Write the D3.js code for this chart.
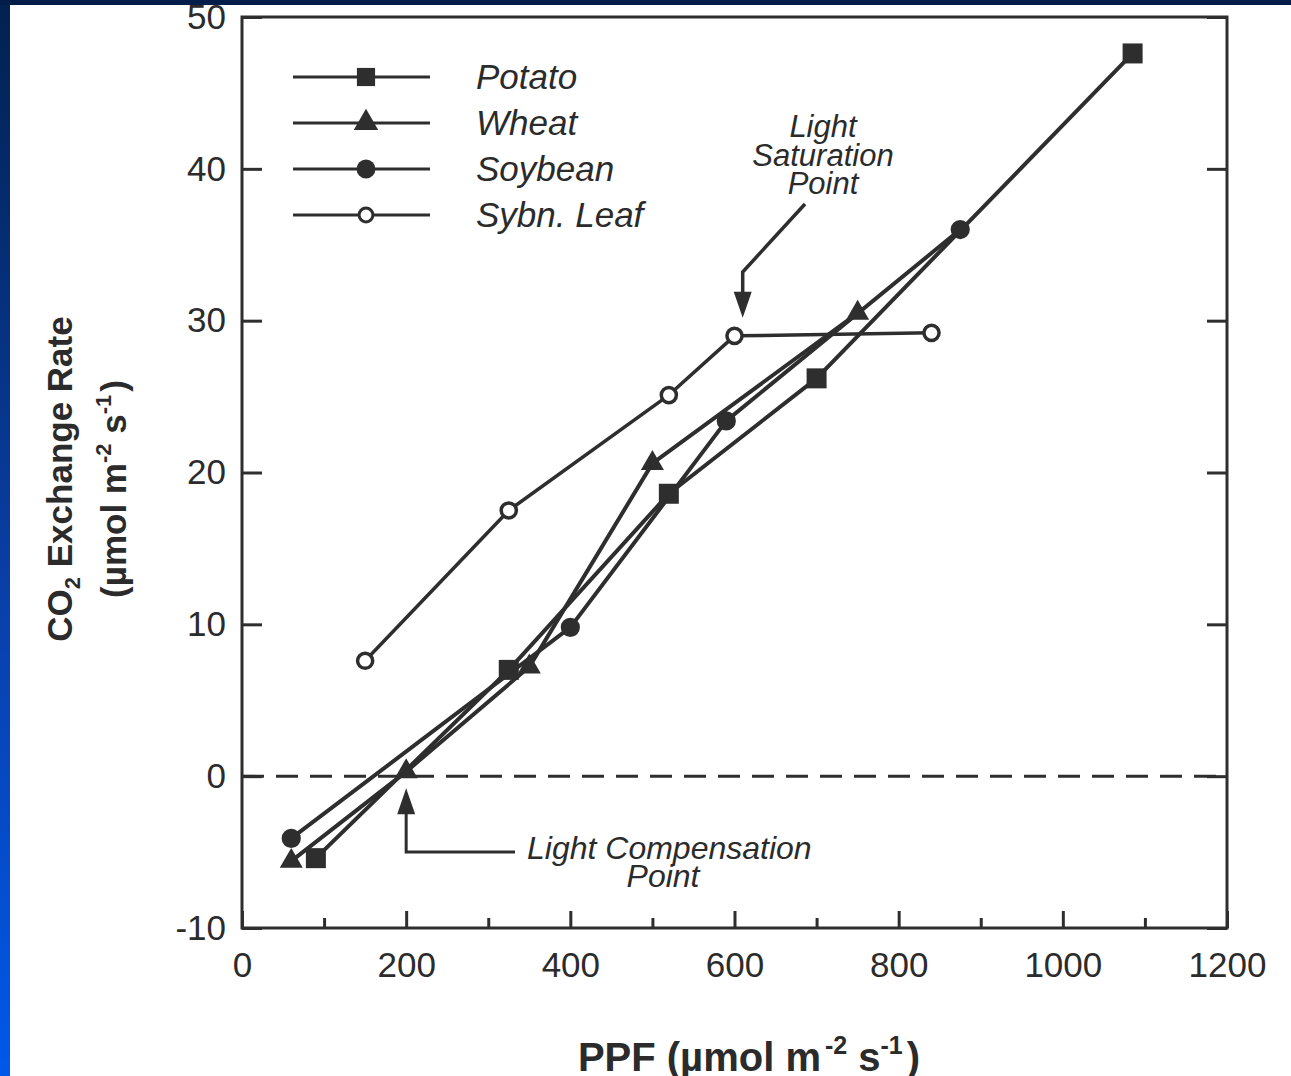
<!DOCTYPE html>
<html>
<head>
<meta charset="utf-8">
<script src="https://cdn.jsdelivr.net/npm/d3@7"></script>
<style>
  html, body { margin: 0; padding: 0; background: #fff; }
  svg { display: block; }
  text { font-family: "Liberation Sans", Arial, Helvetica, sans-serif; fill: #2b2b2b; }
</style>
</head>
<body>
<svg id="chart" width="1291" height="1076"></svg>
<script>
/* CO2 exchange rate vs. PPF — light response curves for four canopies. */

// ---- data ----
var potatoPPF  = [90, 325, 520, 700, 1085];
var potatoCER  = [-5.4, 7.0, 18.6, 26.2, 47.6];
var wheatPPF   = [60, 200, 350, 500, 750];
var wheatCER   = [-5.6, 0.3, 7.2, 20.6, 30.5];
var soyPPF     = [60, 400, 590, 875];
var soyCER     = [-4.1, 9.8, 23.4, 36.0];
var leafPPF    = [150, 325, 520, 600, 840];
var leafCER    = [7.6, 17.5, 25.1, 29.0, 29.2];

var seriesNames = ['Potato', 'Wheat', 'Soybean', 'Sybn. Leaf'];
var xTicks      = [0, 200, 400, 600, 800, 1000, 1200];
var xMinorTicks = [100, 300, 500, 700, 900, 1100];
var yTicks      = [-10, 0, 10, 20, 30, 40, 50];

var compensationPPF = 200;   // arrow "Light Compensation Point"
var saturationPPF   = 610;   // arrow "Light Saturation Point"
var saturationCER   = 29;

(function () {
  'use strict';

  var INK = '#2e2e2e';
  var svg = d3.select('#chart');

  // ---- slide frame: navy top band, blue gradient strip on the left ----
  var defs = svg.append('defs');
  var grad = defs.append('linearGradient').attr('id', 'sideBlue')
    .attr('x1', 0).attr('y1', 0).attr('x2', 0).attr('y2', 1);
  grad.append('stop').attr('offset', '0%').attr('stop-color', '#02214f');
  grad.append('stop').attr('offset', '55%').attr('stop-color', '#0a3fa8');
  grad.append('stop').attr('offset', '100%').attr('stop-color', '#0058ea');
  svg.append('rect').attr('x', 0).attr('y', 0).attr('width', 10).attr('height', 1076)
    .attr('fill', 'url(#sideBlue)');
  svg.append('rect').attr('x', 0).attr('y', 0).attr('width', 1291).attr('height', 5)
    .attr('fill', '#021d4a');

  // ---- scales ----
  var x = d3.scaleLinear().domain([0, 1200]).range([242, 1227]);
  var y = d3.scaleLinear().domain([-10, 50]).range([928, 17]);
  var plain = function (d) { return String(d); };   // "-10", "1000" as printed

  var plot = svg.append('g');

  // zero line (dashed)
  plot.append('line')
    .attr('x1', x(0)).attr('x2', x(1200)).attr('y1', y(0)).attr('y2', y(0))
    .attr('stroke', INK).attr('stroke-width', 3).attr('stroke-dasharray', '22 12');

  // ---- axes: ticks point inward, box drawn separately ----
  function styleAxis(g, fs) {
    g.select('.domain').remove();
    g.selectAll('.tick line').attr('stroke', INK).attr('stroke-width', 3);
    g.selectAll('.tick text').attr('fill', INK).attr('font-size', fs)
      .attr('font-family', '"Liberation Sans", Arial, sans-serif');
  }

  plot.append('g').attr('transform', 'translate(' + x(0) + ',0)')
    .call(d3.axisLeft(y).tickValues(yTicks).tickFormat(plain).tickSize(-20).tickPadding(16))
    .call(styleAxis, 35);
  plot.append('g').attr('transform', 'translate(' + x(1200) + ',0)')
    .call(d3.axisRight(y).tickValues(yTicks).tickSize(-20).tickFormat(''))
    .call(styleAxis, 35);
  plot.append('g').attr('transform', 'translate(0,' + y(-10) + ')')
    .call(d3.axisBottom(x).tickValues(xTicks).tickFormat(plain).tickSize(-17).tickPadding(24))
    .call(styleAxis, 35);
  plot.append('g').attr('transform', 'translate(0,' + y(-10) + ')')
    .call(d3.axisBottom(x).tickValues(xMinorTicks).tickSize(-10).tickFormat(''))
    .call(styleAxis, 35);

  plot.append('rect')
    .attr('x', x(0)).attr('y', y(50))
    .attr('width', x(1200) - x(0)).attr('height', y(-10) - y(50))
    .attr('fill', 'none').attr('stroke', INK).attr('stroke-width', 3);

  // ---- series ----
  var series = [
    { name: seriesNames[0], xs: potatoPPF, ys: potatoCER, sym: d3.symbolSquare,   size: 400, fill: INK,    lw: 4 },
    { name: seriesNames[1], xs: wheatPPF,  ys: wheatCER,  sym: d3.symbolTriangle, size: 230, fill: INK,    lw: 4 },
    { name: seriesNames[2], xs: soyPPF,    ys: soyCER,    sym: d3.symbolCircle,   size: 290, fill: INK,    lw: 4 },
    { name: seriesNames[3], xs: leafPPF,   ys: leafCER,   sym: d3.symbolCircle,   size: 180, fill: '#fff', lw: 3.5 }
  ];

  var line = d3.line().x(function (d) { return x(d[0]); }).y(function (d) { return y(d[1]); });

  series.forEach(function (s) {
    var pts = s.xs.map(function (v, i) { return [v, s.ys[i]]; });
    plot.append('path').datum(pts).attr('d', line)
      .attr('fill', 'none').attr('stroke', INK).attr('stroke-width', s.lw)
      .attr('stroke-linejoin', 'round');
  });
  series.forEach(function (s) {
    var pts = s.xs.map(function (v, i) { return [v, s.ys[i]]; });
    plot.selectAll(null).data(pts).enter().append('path')
      .attr('d', d3.symbol().type(s.sym).size(s.size))
      .attr('transform', function (d) { return 'translate(' + x(d[0]) + ',' + y(d[1]) + ')'; })
      .attr('fill', s.fill).attr('stroke', INK).attr('stroke-width', s.fill === INK ? 0 : 3.5);
  });

  // ---- legend ----
  var legend = svg.append('g');
  var legendSizes = [330, 260, 280, 150];
  series.forEach(function (s, i) {
    var ly = 77 + i * 46;
    legend.append('line').attr('x1', 293).attr('x2', 430).attr('y1', ly).attr('y2', ly)
      .attr('stroke', INK).attr('stroke-width', 3);
    legend.append('path')
      .attr('d', d3.symbol().type(s.sym).size(legendSizes[i]))
      .attr('transform', 'translate(366,' + ly + ')')
      .attr('fill', s.fill).attr('stroke', INK).attr('stroke-width', s.fill === INK ? 0 : 3);
    legend.append('text').attr('x', 476).attr('y', ly + 12)
      .attr('font-size', 35).attr('font-style', 'italic').text(s.name);
  });

  // ---- annotations ----
  var ann = svg.append('g');
  // Light Compensation Point: arrow points up to (200, 0)
  var cx = x(compensationPPF), cyTip = y(0) + 12;
  ann.append('path')
    .attr('d', 'M515,852H' + cx + 'V' + (cyTip + 22))
    .attr('fill', 'none').attr('stroke', INK).attr('stroke-width', 3);
  ann.append('path')
    .attr('d', 'M' + cx + ',' + cyTip + 'L' + (cx - 9) + ',' + (cyTip + 26) + 'L' + (cx + 9) + ',' + (cyTip + 26) + 'Z')
    .attr('fill', INK);
  ann.append('text').attr('x', 527).attr('y', 859).attr('font-size', 32).attr('font-style', 'italic')
    .text('Light Compensation');
  ann.append('text').attr('x', 663).attr('y', 887).attr('font-size', 32).attr('font-style', 'italic')
    .attr('text-anchor', 'middle').text('Point');

  // Light Saturation Point: arrow points down to the soybean-leaf plateau
  var sx = x(saturationPPF), syTip = y(saturationCER) - 18;
  ann.append('path')
    .attr('d', 'M805,204L' + sx + ',272V' + (syTip - 20))
    .attr('fill', 'none').attr('stroke', INK).attr('stroke-width', 3.5);
  ann.append('path')
    .attr('d', 'M' + sx + ',' + syTip + 'L' + (sx - 9) + ',' + (syTip - 26) + 'L' + (sx + 9) + ',' + (syTip - 26) + 'Z')
    .attr('fill', INK);
  ['Light', 'Saturation', 'Point'].forEach(function (t, i) {
    ann.append('text').attr('x', 823).attr('y', 137 + i * 28.5).attr('font-size', 31)
      .attr('font-style', 'italic').attr('text-anchor', 'middle').text(t);
  });

  // ---- axis titles ----
  var xt = svg.append('text').attr('x', 749).attr('y', 1071).attr('text-anchor', 'middle')
    .attr('font-size', 40).attr('font-weight', 'bold');
  xt.append('tspan').text('PPF (\u00b5mol m');
  xt.append('tspan').attr('font-size', 25).attr('dy', -17).attr('dx', 4).text('-2');
  xt.append('tspan').attr('dy', 17).text(' s');
  xt.append('tspan').attr('font-size', 25).attr('dy', -17).text('-1');
  xt.append('tspan').attr('dy', 17).attr('dx', 4).text(')');

  var yt1 = svg.append('text').attr('transform', 'translate(72,479) rotate(-90)')
    .attr('text-anchor', 'middle').attr('font-size', 35).attr('font-weight', 'bold');
  yt1.append('tspan').text('CO');
  yt1.append('tspan').attr('font-size', 22).attr('dy', 8).text('2');
  yt1.append('tspan').attr('dy', -8).text(' Exchange Rate');

  var yt2 = svg.append('text').attr('transform', 'translate(126,489) rotate(-90)')
    .attr('text-anchor', 'middle').attr('font-size', 35).attr('font-weight', 'bold');
  yt2.append('tspan').text('(\u00b5mol m');
  yt2.append('tspan').attr('font-size', 22).attr('dy', -15).text('-2');
  yt2.append('tspan').attr('dy', 15).text(' s');
  yt2.append('tspan').attr('font-size', 22).attr('dy', -15).text('-1');
  yt2.append('tspan').attr('dy', 15).attr('dx', 3).text(')');
})();
</script>
</body>
</html>
